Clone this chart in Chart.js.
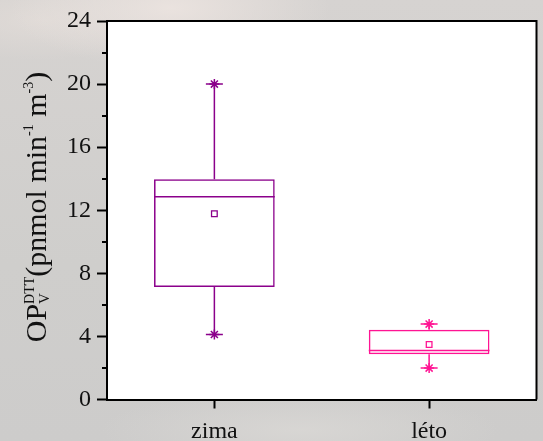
<!DOCTYPE html>
<html>
<head>
<meta charset="utf-8">
<script src="https://cdn.jsdelivr.net/npm/chart.js@4/dist/chart.umd.min.js"></script>
<style>
  html, body { margin: 0; padding: 0; }
  body {
    width: 543px; height: 441px; overflow: hidden;
    background:
      radial-gradient(ellipse 160px 60px at 170px 8px, rgba(236,228,224,0.9), rgba(236,228,224,0) 100%),
      radial-gradient(ellipse 120px 40px at 40px 20px, rgba(226,220,216,0.8), rgba(226,220,216,0) 100%),
      radial-gradient(ellipse 200px 40px at 300px 430px, rgba(220,218,215,0.7), rgba(220,218,215,0) 100%),
      linear-gradient(180deg, #d6d3d1 0%, #cfcecc 60%, #cdcccb 100%);
  }
  #wrap { position: relative; width: 543px; height: 441px; }
</style>
</head>
<body>
<div id="wrap"><canvas id="c" width="543" height="441"></canvas></div>
<script>
// Seasonal DTT oxidative potential, box-plot summary
const categories = ['zima', 'léto'];
const whiskerLow  = [4.12, 1.99];
const q1          = [7.14, 2.87];
const median      = [12.86, 3.11];
const q3          = [13.96, 4.42];
const whiskerHigh = [20.0, 4.78];
const mean        = [11.78, 3.49];
const yTicks      = [0, 4, 8, 12, 16, 20, 24];
const yMinorTicks = [2, 6, 10, 14, 18, 22];

const colors = ['#8B008B', '#FF1493'];
const FONT = "'Liberation Serif', 'Times New Roman', serif";
const TEXT = '#111111';

// white plot panel + full frame
const panelPlugin = {
  id: 'panel',
  beforeDraw(chart) {
    const { ctx, chartArea: a } = chart;
    ctx.save();
    ctx.fillStyle = '#ffffff';
    ctx.fillRect(a.left, a.top, a.right - a.left, a.bottom - a.top);
    ctx.restore();
  },
  afterDraw(chart) {
    const { ctx, chartArea: a } = chart;
    const y = chart.scales.y;
    ctx.save();
    ctx.strokeStyle = '#000';
    ctx.lineWidth = 2;
    ctx.beginPath();
    ctx.moveTo(a.left, a.top);
    ctx.lineTo(a.right, a.top);
    ctx.lineTo(a.right, a.bottom);
    ctx.stroke();
    // minor ticks on the value axis
    ctx.beginPath();
    yMinorTicks.forEach(v => {
      const py = Math.round(y.getPixelForValue(v));
      ctx.moveTo(a.left - 5, py);
      ctx.lineTo(a.left, py);
    });
    ctx.stroke();
    ctx.restore();
  }
};

// whiskers, caps and median lines
const boxPlugin = {
  id: 'boxParts',
  afterDatasetsDraw(chart) {
    const { ctx } = chart;
    const x = chart.scales.x, y = chart.scales.y;
    const bars = chart.getDatasetMeta(0).data;
    ctx.save();
    ctx.lineWidth = 1.5;
    categories.forEach((c, i) => {
      const cx = x.getPixelForValue(i);
      const half = bars[i].width / 2;
      ctx.strokeStyle = colors[i];
      ctx.beginPath();
      // upper whisker
      ctx.moveTo(cx, y.getPixelForValue(q3[i]));
      ctx.lineTo(cx, y.getPixelForValue(whiskerHigh[i]));
      // lower whisker
      ctx.moveTo(cx, y.getPixelForValue(q1[i]));
      ctx.lineTo(cx, y.getPixelForValue(whiskerLow[i]));
      // caps
      const capH = y.getPixelForValue(whiskerHigh[i]);
      const capL = y.getPixelForValue(whiskerLow[i]);
      ctx.moveTo(cx - 8.5, capH); ctx.lineTo(cx + 8.5, capH);
      ctx.moveTo(cx - 8.5, capL); ctx.lineTo(cx + 8.5, capL);
      // median
      const my = y.getPixelForValue(median[i]);
      ctx.moveTo(cx - half, my); ctx.lineTo(cx + half, my);
      ctx.stroke();
    });
    ctx.restore();
  }
};

// rotated axis title with sub/superscripts
const titlePlugin = {
  id: 'yTitle',
  afterDraw(chart) {
    const { ctx } = chart;
    const big = 30, small = 14;
    const parts = [
      { t: 'OP', f: big, dy: 0 },
      { stack: [{ t: 'DTT', f: small, dy: -12 }, { t: 'V', f: 15, dy: 3 }] },
      { t: '(pnmol min', f: big, dy: 0 },
      { t: '-1', f: small, dy: -13 },
      { t: ' m', f: big, dy: 0 },
      { t: '-3', f: small, dy: -13 },
      { t: ')', f: big, dy: 0 }
    ];
    const w = p => { ctx.font = p.f + 'px ' + FONT; return ctx.measureText(p.t).width; };
    let total = 0;
    parts.forEach(p => { total += p.stack ? Math.max(...p.stack.map(w)) : w(p); });
    const centerY = 207;
    ctx.save();
    ctx.translate(46, centerY + total / 2);
    ctx.rotate(-Math.PI / 2);
    ctx.fillStyle = TEXT;
    ctx.textBaseline = 'alphabetic';
    ctx.textAlign = 'left';
    let cx = 0;
    parts.forEach(p => {
      if (p.stack) {
        let mw = 0;
        p.stack.forEach(s => {
          ctx.font = s.f + 'px ' + FONT;
          ctx.fillText(s.t, cx, s.dy);
          mw = Math.max(mw, ctx.measureText(s.t).width);
        });
        cx += mw;
      } else {
        ctx.font = p.f + 'px ' + FONT;
        ctx.fillText(p.t, cx, p.dy);
        cx += ctx.measureText(p.t).width;
      }
    });
    ctx.restore();
  }
};

const whiskerPoints = [];
const whiskerColors = [];
categories.forEach((c, i) => {
  whiskerPoints.push({ x: c, y: whiskerHigh[i] }, { x: c, y: whiskerLow[i] });
  whiskerColors.push(colors[i], colors[i]);
});

new Chart(document.getElementById('c'), {
  type: 'bar',
  data: {
    labels: categories,
    datasets: [
      {
        label: 'IQR',
        data: categories.map((c, i) => [q1[i], q3[i]]),
        backgroundColor: 'rgba(255,255,255,0)',
        borderColor: colors,
        borderWidth: 1.5,
        borderSkipped: false,
        barPercentage: 0.562,
        categoryPercentage: 1,
        order: 3
      },
      {
        type: 'line',
        label: 'whisker ends',
        data: whiskerPoints,
        showLine: false,
        pointStyle: 'star',
        pointRadius: 5,
        pointBorderWidth: 1.5,
        pointBorderColor: whiskerColors,
        pointBackgroundColor: whiskerColors,
        order: 1
      },
      {
        type: 'line',
        label: 'mean',
        data: categories.map((c, i) => ({ x: c, y: mean[i] })),
        showLine: false,
        pointStyle: 'rect',
        pointRadius: 4,
        pointBorderWidth: 1.3,
        pointBorderColor: colors,
        pointBackgroundColor: '#ffffff',
        order: 2
      }
    ]
  },
  options: {
    responsive: false,
    animation: false,
    layout: { padding: { top: 21, right: 2, left: 0, bottom: 0 } },
    plugins: { legend: { display: false }, tooltip: { enabled: false } },
    scales: {
      x: {
        type: 'category',
        offset: true,
        grid: { display: true, drawOnChartArea: false, offset: false, tickLength: 9, tickWidth: 2, tickColor: '#000' },
        border: { color: '#000', width: 2 },
        ticks: { font: { family: FONT, size: 24 }, color: TEXT, padding: 9, maxRotation: 0 },
        afterFit(s) { s.height = 41.5; }
      },
      y: {
        min: 0, max: 24,
        afterBuildTicks(s) { s.ticks = yTicks.map(v => ({ value: v })); },
        grid: { display: true, drawOnChartArea: false, tickLength: 10, tickWidth: 2, tickColor: '#000' },
        border: { color: '#000', width: 2 },
        ticks: { font: { family: FONT, size: 24 }, color: TEXT, padding: 6 },
        afterFit(s) { s.width = 107; }
      }
    }
  },
  plugins: [panelPlugin, boxPlugin, titlePlugin]
});
</script>
</body>
</html>
